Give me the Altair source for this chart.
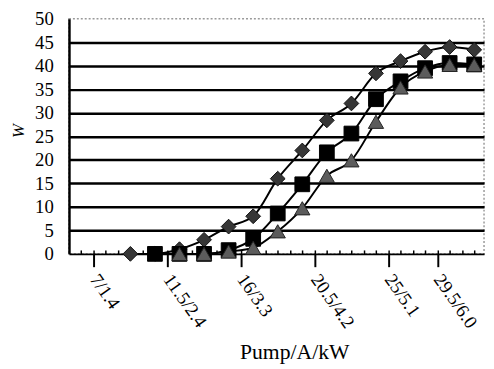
import altair as alt
import pandas as pd

# x positions are steps along the category axis (2 minor ticks per data step)
steps = list(range(5, 34, 2))
diamond = [0, 0, 1, 3, 5.8, 8, 16, 22, 28.4, 32, 38.4, 41, 43, 44, 43.4]
square_steps = steps[1:]
square = [0, 0, 0, 0.8, 3.2, 8.6, 14.8, 21.6, 25.6, 32.9, 36.7, 39.5, 40.6, 40.3]
tri_steps = steps[2:]
triangle = [0, 0, 0.5, 1.3, 4.8, 9.7, 16.6, 19.9, 28.1, 35.4, 38.8, 40.2, 40.2]

tick_values = [2, 8, 14, 20, 26, 30]
tick_labels = ["7/1.4", "11.5/2.4", "16/3.3", "20.5/4.2", "25/5.1", "29.5/6.0"]
minor_values = list(range(1, 34))
y_ticks = list(range(0, 55, 5))
grid_values = list(range(5, 50, 5))

FONT = "Liberation Serif"
label_expr = " : ".join(f"datum.value == {v} ? '{t}'" for v, t in zip(tick_values, tick_labels)) + " : ''"

xscale = alt.Scale(domain=[0, 33.8], nice=False, zero=False)
yscale = alt.Scale(domain=[0, 50], nice=False)

major_x = alt.Axis(values=tick_values, labelExpr=label_expr, orient="bottom",
                   labelAngle=55, labelAlign="left", labelBaseline="middle", labelPadding=9,
                   labelFont=FONT, labelFontSize=19, labelColor="black", labelOverlap=False,
                   labelFlush=False,
                   tickSize=13, tickWidth=2, tickColor="black",
                   domainColor="black", domainWidth=2, grid=False,
                   title="Pump/A/kW", titleFont=FONT, titleFontSize=22, titleFontWeight="normal",
                   titleColor="black", titleX=229, titleY=106, titleBaseline="alphabetic",
                   titleAlign="center")
minor_x = alt.Axis(values=minor_values, orient="bottom", offset=-4, tickSize=4, tickWidth=1.5,
                   tickColor="black", labels=False, domain=False, grid=False, title=None)
main_y = alt.Axis(values=y_ticks, orient="left", grid=False, ticks=False,
                  domainColor="black", domainWidth=2.5,
                  labelFont=FONT, labelFontSize=19, labelColor="black", labelPadding=16,
                  title="W", titleFont=FONT, titleFontSize=17, titleFontStyle="italic",
                  titleFontWeight="normal", titleColor="black", titleX=-51, titleY=113.5,
                  titleAngle=270, titleBaseline="middle", titleAlign="center")
grid_y = alt.Axis(values=grid_values, orient="left", grid=True, gridColor="black", gridWidth=2.5,
                  labels=False, ticks=False, domain=False, title=None)


def series(xs, ys, shape, size, fill, stroke, xaxis_line=None, yaxis_line=None,
           xaxis_pts=None, yaxis_pts=None):
    df = pd.DataFrame({"k": xs, "w": ys})
    base = alt.Chart(df)
    line = base.mark_line(color="black", strokeWidth=2, interpolate="monotone").encode(
        x=alt.X("k:Q", scale=xscale, axis=xaxis_line),
        y=alt.Y("w:Q", scale=yscale, axis=yaxis_line),
    )
    pts = base.mark_point(shape=shape, size=size, filled=True, fill=fill, stroke=stroke,
                          strokeWidth=1, opacity=1).encode(
        x=alt.X("k:Q", scale=xscale, axis=xaxis_pts),
        y=alt.Y("w:Q", scale=yscale, axis=yaxis_pts),
    )
    return [line, pts]


layers = []
layers += series(steps, diamond, "diamond", 225, "#363636", "#111111",
                 xaxis_line=major_x, yaxis_line=main_y, xaxis_pts=minor_x, yaxis_pts=grid_y)
layers += series(square_steps, square, "square", 225, "black", "black")
layers += series(tri_steps, triangle, "triangle-up", 240, "#5c5c5c", "#222222")

chart = alt.layer(*layers).resolve_axis(x="independent", y="independent").properties(
    width=422, height=239,
    autosize=alt.AutoSizeParams(type="none"),
    padding={"left": 62, "top": 8, "right": 2, "bottom": 112},
    background="white",
).configure_view(stroke="#9a9a9a", strokeDash=[2, 2], strokeWidth=1.5)

chart.save("out.html", embed_options={"renderer": "svg", "actions": False})
